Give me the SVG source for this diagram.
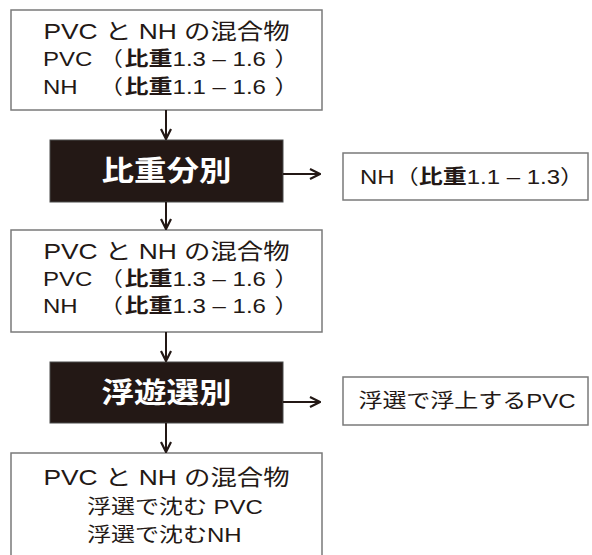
<svg xmlns="http://www.w3.org/2000/svg" width="592" height="555" viewBox="0 0 592 555">
<style>
.bg{fill:#fff}
.box{fill:#fff;stroke:#7a7a7a;stroke-width:1.5}
.blk{fill:#231815;stroke:#4a4a4a;stroke-width:1}
.t{font-family:"Liberation Sans","Noto Sans CJK JP",sans-serif;fill:#231815}
.ti{font-size:22px}
.s{font-size:20px}
.b{font-weight:bold}
.w{font-family:"Noto Sans CJK JP","Liberation Sans",sans-serif;fill:#fff;font-size:29px;font-weight:bold}
.ln{fill:none;stroke:#231815;stroke-width:2}
</style>
<defs>
<marker id="ah" viewBox="0 0 12 12" refX="11" refY="6" markerWidth="12" markerHeight="12" markerUnits="userSpaceOnUse" orient="auto">
<path d="M1,1 L11,6 L1,11" fill="none" stroke="#231815" stroke-width="2.2"/>
</marker>
</defs>
<rect class="bg" x="0" y="0" width="592" height="555"/>

<g id="mix1">
<rect class="box" x="11" y="10" width="311" height="100"/>
<text class="t ti" text-anchor="middle" transform="translate(166.5,39) scale(1.2,1)">PVC と NH の混合物</text>
<text class="t s" transform="translate(43,66) scale(1.2,1)"><tspan x="0">PVC</tspan><tspan x="46.7">（</tspan><tspan x="68" class="b">比重</tspan>1.3 – 1.6<tspan x="193">）</tspan></text>
<text class="t s" transform="translate(43,94) scale(1.2,1)"><tspan x="0">NH</tspan><tspan x="46.7">（</tspan><tspan x="68" class="b">比重</tspan>1.1 – 1.6<tspan x="193">）</tspan></text>
</g>

<g id="sep1">
<rect class="blk" x="50" y="140" width="233" height="62"/>
<text class="w" text-anchor="middle" transform="translate(166.5,181) scale(1.12,1)">比重分別</text>
</g>

<g id="out1">
<rect class="box" x="343" y="153" width="245" height="47"/>
<text class="t s" text-anchor="middle" transform="translate(472,184) scale(1.2,1)">NH（<tspan class="b">比重</tspan>1.1 – 1.3）</text>
</g>

<g id="mix2">
<rect class="box" x="11" y="230" width="311" height="102"/>
<text class="t ti" text-anchor="middle" transform="translate(166.5,259) scale(1.2,1)">PVC と NH の混合物</text>
<text class="t s" transform="translate(43,286) scale(1.2,1)"><tspan x="0">PVC</tspan><tspan x="46.7">（</tspan><tspan x="68" class="b">比重</tspan>1.3 – 1.6<tspan x="193">）</tspan></text>
<text class="t s" transform="translate(43,313) scale(1.2,1)"><tspan x="0">NH</tspan><tspan x="46.7">（</tspan><tspan x="68" class="b">比重</tspan>1.3 – 1.6<tspan x="193">）</tspan></text>
</g>

<g id="sep2">
<rect class="blk" x="50" y="362" width="233" height="61"/>
<text class="w" text-anchor="middle" transform="translate(166.5,403) scale(1.12,1)">浮遊選別</text>
</g>

<g id="out2">
<rect class="box" x="343" y="377" width="245" height="48"/>
<text class="t s" text-anchor="middle" transform="translate(467,408) scale(1.2,1)">浮選で浮上するPVC</text>
</g>

<g id="mix3">
<path class="box" d="M11,560 V453 H322 V560"/>
<text class="t ti" text-anchor="middle" transform="translate(166.5,485) scale(1.2,1)">PVC と NH の混合物</text>
<text class="t s" transform="translate(87,514) scale(1.2,1)">浮選で沈む PVC</text>
<text class="t s" transform="translate(87,542) scale(1.2,1)">浮選で沈むNH</text>
</g>

<g id="connectors">
<line class="ln" x1="166" y1="110" x2="166" y2="139" marker-end="url(#ah)"/>
<line class="ln" x1="166" y1="202" x2="166" y2="229" marker-end="url(#ah)"/>
<line class="ln" x1="166" y1="332" x2="166" y2="361" marker-end="url(#ah)"/>
<line class="ln" x1="166" y1="423" x2="166" y2="452" marker-end="url(#ah)"/>
<line class="ln" x1="283" y1="174" x2="320" y2="174" marker-end="url(#ah)"/>
<line class="ln" x1="283" y1="402" x2="320" y2="402" marker-end="url(#ah)"/>
</g>
</svg>
